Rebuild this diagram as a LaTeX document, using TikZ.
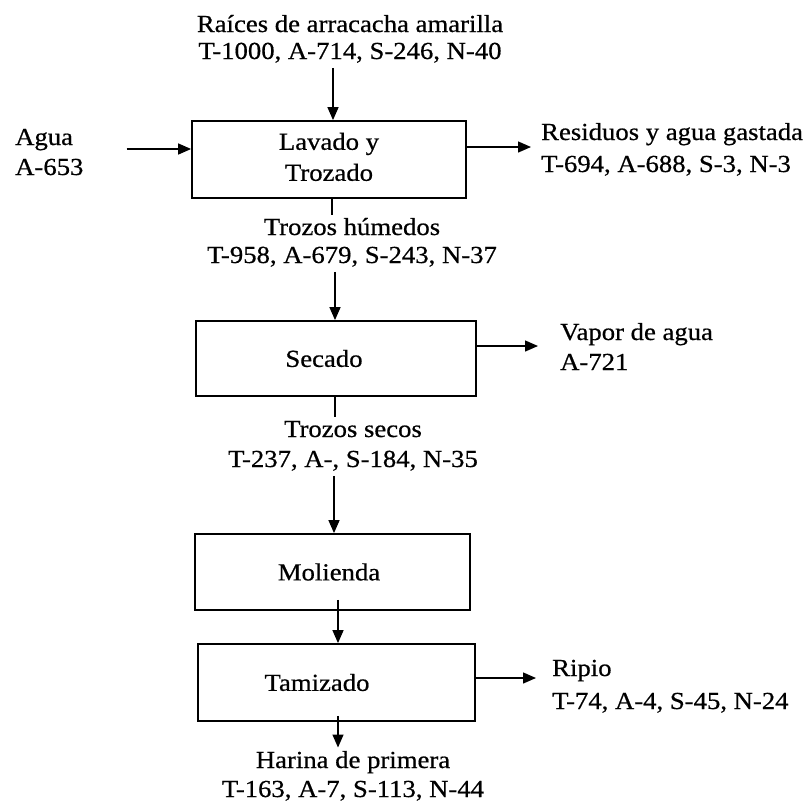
\documentclass[tikz,border=0pt]{standalone}
\usepackage{fontspec}
\setmainfont{Liberation Serif}[FakeStretch=1.09,FakeBold=0.6]
\usetikzlibrary{arrows.meta,calc}
\begin{document}
\begin{tikzpicture}[x=1pt,y=-1pt,
  every node/.style={font=\fontsize{24.5}{29}\selectfont, inner sep=0pt},
  box/.style={draw, line width=1.8pt},
  arr/.style={line width=1.4pt, -{Triangle[length=13pt,width=11pt]}},
  ln/.style={line width=1.4pt}]
\fill[white] (0,0) rectangle (812,804);
\useasboundingbox (0,0) rectangle (812,804);

% process boxes
\node[box, minimum width=274pt, minimum height=77pt] (lav) at (329,159.5)
  {\begin{tabular}{@{}c@{}}Lavado y\\[2pt] Trozado\end{tabular}};
\node[box, minimum width=280pt, minimum height=75pt] (sec) at (336,358.5)
  {\hspace*{-24pt}Secado};
\node[box, minimum width=275pt, minimum height=76pt] (mol) at (332.5,572)
  {\hspace*{-7pt}Molienda};
\node[box, minimum width=277pt, minimum height=77pt] (tam) at (336.5,682.5)
  {\hspace*{-39pt}Tamizado};

% stream labels
\node[anchor=base] (rai) at (350,32)
  {\begin{tabular}[t]{@{}c@{}}Raíces de arracacha amarilla\\[-2pt] T-1000, A-714, S-246, N-40\end{tabular}};
\node[anchor=base west] (agua) at (15,145)
  {\begin{tabular}[t]{@{}l@{}}Agua\\[1pt] A-653\end{tabular}};
\node[anchor=base west] (res) at (541,140)
  {\begin{tabular}[t]{@{}l@{}}Residuos y agua gastada\\[3pt] T-694, A-688, S-3, N-3\end{tabular}};
\node[anchor=base] (hum) at (352,235)
  {\begin{tabular}[t]{@{}c@{}}Trozos húmedos\\[-1pt] T-958, A-679, S-243, N-37\end{tabular}};
\node[anchor=base west] (vap) at (560,340)
  {\begin{tabular}[t]{@{}l@{}}Vapor de agua\\[1pt] A-721\end{tabular}};
\node[anchor=base] (sco) at (353,437)
  {\begin{tabular}[t]{@{}c@{}}Trozos secos\\[1pt] T-237, A-, S-184, N-35\end{tabular}};
\node[anchor=base west] (rip) at (552,676)
  {\begin{tabular}[t]{@{}l@{}}Ripio\\[4pt] T-74, A-4, S-45, N-24\end{tabular}};
\node[anchor=base] (har) at (353,768)
  {\begin{tabular}[t]{@{}c@{}}Harina de primera\\ T-163, A-7, S-113, N-44\end{tabular}};

% vertical connectors
\coordinate (c1) at ($(lav.north)+(4,0)$);
\draw[arr] (c1 |- rai.south) -- (c1);
\coordinate (c2) at ($(lav.south)+(3,0)$);
\draw[ln] (c2) -- (c2 |- hum.north);
\coordinate (c3) at ($(sec.north)+(-1,0)$);
\draw[arr] (c3 |- hum.south) -- (c3);
\coordinate (c4) at ($(sec.south)+(-1,0)$);
\draw[ln] (c4) -- (c4 |- sco.north);
\coordinate (c5) at ($(mol.north)+(1.5,0)$);
\draw[arr] (c5 |- sco.south) -- (c5);
\coordinate (c6) at ($(tam.north)+(1.5,0)$);
\draw[arr] ($(c6 |- mol.south)+(0,-11)$) -- (c6);
\coordinate (c7) at ($(tam.south)+(1.5,0)$);
\draw[arr] ($(c7)+(0,-6)$) -- (c7 |- har.north);

% horizontal connectors
\coordinate (h1) at ($(lav.west)+(0,-10.5)$);
\draw[arr] ($(agua.east |- h1)+(43,0)$) -- (h1);
\coordinate (h2) at ($(lav.east)+(0,-12.5)$);
\draw[arr] (h2) -- ($(res.west |- h2)+(-10,0)$);
\coordinate (h3) at ($(sec.east)+(0,-12.5)$);
\draw[arr] (h3) -- ($(vap.west |- h3)+(-22,0)$);
\coordinate (h4) at ($(tam.east)+(0,-4.5)$);
\draw[arr] (h4) -- ($(rip.west |- h4)+(-16,0)$);
\end{tikzpicture}
\end{document}
